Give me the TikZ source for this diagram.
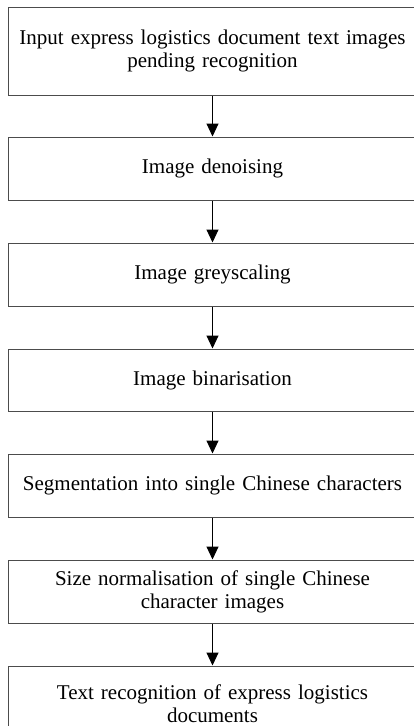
\documentclass[tikz,border=0pt]{standalone}
\usepackage{fontspec}
\setmainfont{Liberation Serif}
\usetikzlibrary{arrows.meta}
\begin{document}
\begin{tikzpicture}[x=1pt,y=-1pt,
  procbox/.style={draw=black!70, line width=1pt, rectangle, inner sep=0pt,
    minimum width=409pt, text width=400pt, align=center,
    font={\fontsize{21}{23}\selectfont}},
  flowarrow/.style={draw=black, line width=1pt, -{Triangle[width=12pt,length=13pt]}}]
\useasboundingbox (0,0) rectangle (413,726);
\node[procbox, minimum height=88pt] (b1) at (212.5,51) {Input express logistics document text images\\pending recognition};
\node[procbox, minimum height=63pt] (b2) at (212.5,168.5) {Image denoising};
\node[procbox, minimum height=63pt] (b3) at (212.5,274.5) {Image greyscaling};
\node[procbox, minimum height=62pt] (b4) at (212.5,380) {Image binarisation};
\node[procbox, minimum height=63pt] (b5) at (212.5,485.5) {Segmentation into single Chinese characters};
\node[procbox, minimum height=63pt] (b6) at (212.5,591.5) {Size normalisation of single Chinese\\character images};
\node[procbox, minimum height=76pt] (b7) at (212.5,704) {Text recognition of express logistics\\documents};
\draw[flowarrow] (b1.south) -- (b2.north);
\draw[flowarrow] (b2.south) -- (b3.north);
\draw[flowarrow] (b3.south) -- (b4.north);
\draw[flowarrow] (b4.south) -- (b5.north);
\draw[flowarrow] (b5.south) -- (b6.north);
\draw[flowarrow] (b6.south) -- (b7.north);
\end{tikzpicture}
\end{document}
